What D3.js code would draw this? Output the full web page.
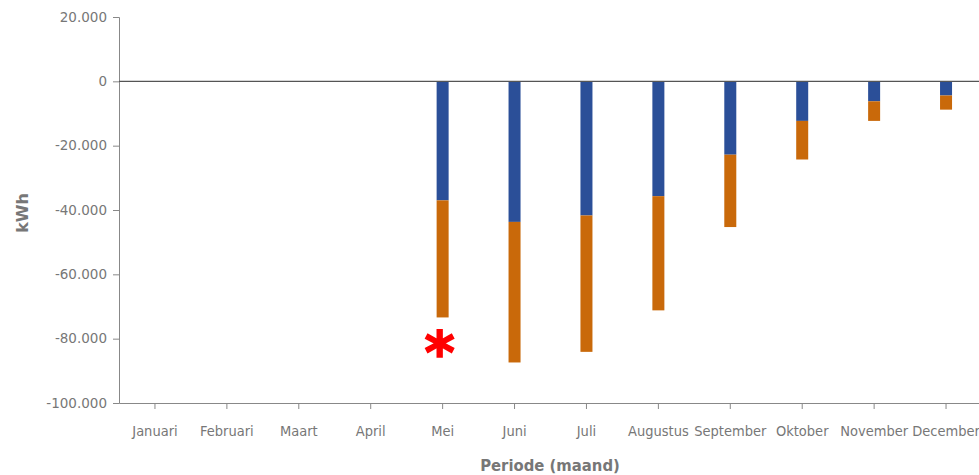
<!DOCTYPE html>
<html><head><meta charset="utf-8">
<script src="https://cdn.jsdelivr.net/npm/d3@7"></script>
<style>
body{margin:0;background:#fff;overflow:hidden}
svg{display:block}
.ytick text{font-family:Verdana,"DejaVu Sans",sans-serif;font-size:13.5px;fill:#777}
.xtick text{font-family:"DejaVu Sans Condensed","DejaVu Sans",sans-serif;font-stretch:condensed;font-size:14.5px;fill:#777}
</style></head><body>
<svg id="c" width="979" height="475"></svg>
<script>
const months = ["Januari","Februari","Maart","April","Mei","Juni","Juli","Augustus","September","Oktober","November","December"];
const blueVals = [0,0,0,0,-37000,-43700,-41700,-35700,-22800,-12300,-6200,-4400];
const orangeVals = [0,0,0,0,-36400,-43700,-42400,-35500,-22500,-12000,-6100,-4400];
const yTicks = [20000,0,-20000,-40000,-60000,-80000,-100000];
const colors = {blue:"#2b4f98", orange:"#c9690a"};

(function(){
const svg = d3.select("#c");
const mL = 119, mR = 982, mT = 17, mB = 403;
const x = d3.scaleBand().domain(months).range([mL, mR]);
const y = d3.scaleLinear().domain([-100000, 20000]).range([mB, mT]);
const fmt = v => v === 0 ? "0" : d3.format(",")(v).replace(/,/g, ".").replace("\u2212", "-");

// y axis
const ya = svg.append("g").attr("transform", `translate(${mL},0)`)
  .call(d3.axisLeft(y).tickValues(yTicks).tickFormat(fmt).tickSize(6).tickPadding(6));
ya.select(".domain").attr("stroke", "#888");
ya.selectAll(".tick").attr("class", "tick ytick");
ya.selectAll(".tick line").attr("stroke", "#888");

// x axis
const xa = svg.append("g").attr("transform", `translate(0,${mB})`)
  .call(d3.axisBottom(x).tickSize(6).tickPadding(17).tickSizeOuter(0));
xa.select(".domain").attr("stroke", "#888");
xa.selectAll(".tick").attr("class", "tick xtick");
xa.selectAll(".tick line").attr("stroke", "#888");

// bars
const bw = 12;
const g = svg.append("g");
g.selectAll("rect.b").data(months).join("rect").attr("class","b")
  .attr("x", d => x(d) + x.bandwidth()/2 - bw/2)
  .attr("width", bw)
  .attr("y", y(0))
  .attr("height", (d,i) => y(blueVals[i]) - y(0))
  .attr("fill", colors.blue);
g.selectAll("rect.o").data(months).join("rect").attr("class","o")
  .attr("x", d => x(d) + x.bandwidth()/2 - bw/2)
  .attr("width", bw)
  .attr("y", (d,i) => y(blueVals[i]))
  .attr("height", (d,i) => y(blueVals[i] + orangeVals[i]) - y(blueVals[i]))
  .attr("fill", colors.orange);

// zero line
svg.append("line").attr("x1", mL).attr("x2", 979).attr("y1", y(0)).attr("y2", y(0))
  .attr("stroke", "#555").attr("stroke-width", 1.2);

// axis titles
svg.append("text").attr("x", 550).attr("y", 471).attr("text-anchor", "middle")
  .attr("font-family", "'DejaVu Sans Condensed','DejaVu Sans',sans-serif").attr("font-stretch","condensed")
  .attr("font-weight", "bold").attr("font-size", 16.5).attr("fill", "#777").text("Periode (maand)");
svg.append("text").attr("transform", "translate(28,213) rotate(-90)").attr("text-anchor", "middle")
  .attr("font-family", "Verdana,'DejaVu Sans',sans-serif")
  .attr("font-weight", "bold").attr("font-size", 16).attr("fill", "#777").text("kWh");

// asterisk
svg.append("text").attr("x", x("Mei") + x.bandwidth()/2 - 3).attr("y", 373).attr("text-anchor", "middle")
  .attr("font-family", "'DejaVu Sans',sans-serif").attr("font-weight", "bold")
  .attr("font-size", 58).attr("fill", "#f00").attr("stroke", "#f00").attr("stroke-width", 1.5)
  .text("*");
})();
</script>
</body></html>
